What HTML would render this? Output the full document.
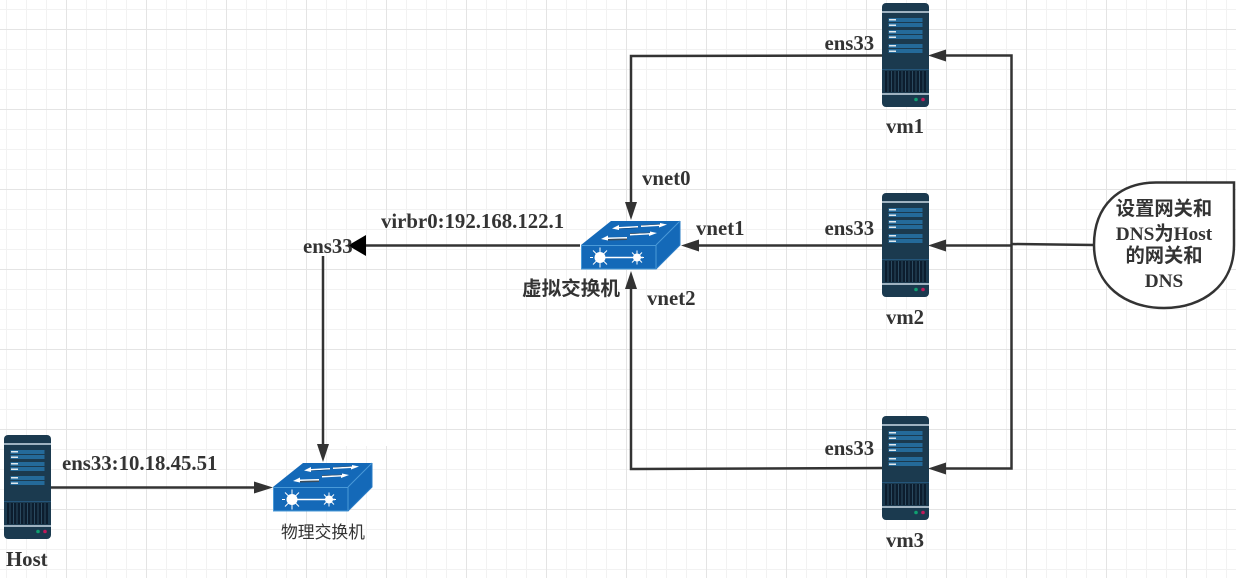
<!DOCTYPE html>
<html><head><meta charset="utf-8"><style>
html,body{margin:0;padding:0;background:#fff;width:1236px;height:578px;overflow:hidden}
svg{display:block}
text{font-family:"Liberation Serif","Noto Sans CJK SC",sans-serif;font-weight:bold;fill:#333;font-size:20.8px}
</style></head><body>
<svg width="1236" height="578" viewBox="0 0 1236 578" xmlns="http://www.w3.org/2000/svg">
<defs>
<pattern id="g" width="20" height="20" patternUnits="userSpaceOnUse" x="6" y="9">
<path d="M0.5 0V20M0 0.5H20" stroke="#f2f2f2" stroke-width="1" fill="none"/>
</pattern>
<pattern id="G" width="80" height="80" patternUnits="userSpaceOnUse" x="66" y="29">
<path d="M0.5 0V80M0 0.5H80" stroke="#e4e4e4" stroke-width="1" fill="none"/>
</pattern>
<g id="srv">
<rect width="47" height="104" rx="4" fill="#1b3a4f"/>
<rect y="8" width="47" height="2" fill="#9fb2c0"/>
<g fill="#246a9a">
<rect x="6.500" y="15" width="34" height="4"/><rect x="6.500" y="20" width="34" height="4"/>
<rect x="6.500" y="27" width="34" height="4"/><rect x="6.500" y="32" width="34" height="4"/>
<rect x="6.500" y="41" width="34" height="4"/><rect x="6.500" y="46" width="34" height="4"/>
</g>
<g fill="#dfe8ee">
<rect x="7" y="16" width="7" height="1.500"/><rect x="7" y="21.500" width="7" height="1.500"/>
<rect x="7" y="28" width="7" height="1.500"/><rect x="7" y="33.500" width="7" height="1.500"/>
<rect x="7" y="42" width="7" height="1.500"/><rect x="7" y="47.500" width="7" height="1.500"/>
</g>
<rect y="66" width="47" height="1" fill="#24557a"/>
<rect x="3" y="68" width="41" height="21" fill="#0c1d2e"/>
<path d="M6 68v21M9.500 68v21M13 68v21M16.500 68v21M20 68v21M23.500 68v21M27 68v21M30.500 68v21M34 68v21M37.500 68v21M41 68v21" stroke="#2a4a60" stroke-width="1"/>
<rect y="90" width="47" height="2" fill="#9fb2c0"/>
<circle cx="34" cy="96.500" r="1.800" fill="#0fa070"/>
<circle cx="41" cy="96.500" r="1.800" fill="#c01a5a"/>
</g>
<g id="sw">
<polygon points="0,24 30,0 99,0 75,24" fill="#1469b8"/>
<polygon points="75,24 99,0 99,24 75,48" fill="#1469b8"/>
<rect x="0.500" y="24.500" width="74.500" height="23.500" fill="#1469b8" stroke="#4a9ad8" stroke-width="1"/>
<path d="M75 24L99 0" stroke="#4a9ad8"/>
<path d="M75 48L99 24V0" stroke="#2a7cc6" fill="none"/>
<polygon points="31,7.500 38,4 38,6 57,5 57,6.500 38,7.500 38,9" fill="#fff"/>
<polygon points="38,8 57,7 57,6.500 38,7.500" fill="#123f6c"/>
<polygon points="60,4.500 79,3.500 79,2 86,3.500 78,6.500 78,5 60,6" fill="#fff"/>
<polygon points="60,4.500 79,3.500 79,3 60,4" fill="#45596b"/>
<polygon points="20,18 27,14.500 27,16.500 46,16 46,17.500 27,18 27,19.500" fill="#fff"/>
<polygon points="27,18 46,17.500 46,19 27,19.500" fill="#3a4c5c"/>
<polygon points="49,13 69,12 69,10.500 76,12 68,15 68,13.500 49,14.500" fill="#fff"/>
<polygon points="49,13 69,12 69,11.500 49,12" fill="#45596b"/>
<path d="M19 36.500H62" stroke="#fff" stroke-width="1.500"/>
<circle cx="19" cy="36.500" r="5.500" fill="#fff"/>
<circle cx="56" cy="36.500" r="4" fill="#fff"/>
<path d="M19 26.500v20M9 36.500h3M12 29.500l14 14M26 29.500l-14 14" stroke="#fff" stroke-width="1"/>
<path d="M56 29.500v14M49 36.500h14M51 31.500l10 10M61 31.500l-10 10" stroke="#fff" stroke-width="1"/>
</g>
</defs>
<rect width="1236" height="578" fill="#fff"/>
<rect width="1236" height="578" fill="url(#g)"/>
<rect width="1236" height="578" fill="url(#G)"/>
<rect x="345" y="430" width="42" height="16" fill="#fff"/>

<use href="#srv" x="882" y="3"/>
<use href="#srv" x="882" y="193"/>
<use href="#srv" x="882" y="416"/>
<use href="#srv" x="4" y="435"/>
<use href="#sw" x="581" y="221"/>
<use href="#sw" x="273" y="463"/>

<g stroke="#333" stroke-width="2.500" fill="none">
<path d="M882 55.500L631 56V205"/>
<path d="M882 245.500H695"/>
<path d="M882 468L631 469V286"/>
<path d="M580 245.500H365"/>
<path d="M323 256V446"/>
<path d="M51 487.500H257"/>
<path d="M945 55.500H1011.500V468.500H945"/>
<path d="M1011 245.500H945"/>
<path d="M1011 244L1094 245"/>
</g>
<g fill="#333">
<polygon points="631,220 625,202 637,202"/>
<polygon points="681,245.500 699,239.500 699,251.500"/>
<polygon points="631,271 625,289 637,289"/>
<polygon points="928,55.500 946,49.500 946,61.500"/>
<polygon points="928,245.500 946,239.500 946,251.500"/>
<polygon points="928,468.500 946,462.500 946,474.500"/>
<polygon points="317,444 329,444 323,462"/>
<polygon points="273,487.500 254,481.500 254,493.500"/>
</g>
<polygon points="348,245.500 366,235 366,256" fill="#000"/>

<path d="M1234 182.500H1156C1120 182.500 1094 205 1094 245C1094 285 1125 308 1164 308C1203 308 1234 285 1234 245Z" fill="#fff" stroke="#333" stroke-width="2.500"/>

<text x="824.500" y="50">ens33</text>
<text x="824.500" y="235">ens33</text>
<text x="824.500" y="455">ens33</text>
<text x="905" y="133" text-anchor="middle">vm1</text>
<text x="905" y="324" text-anchor="middle">vm2</text>
<text x="905" y="547" text-anchor="middle">vm3</text>
<text x="642" y="185">vnet0</text>
<text x="696" y="235">vnet1</text>
<text x="647" y="305">vnet2</text>
<text x="381" y="228">virbr0:192.168.122.1</text>
<text x="303" y="253">ens33</text>
<text x="62" y="470">ens33:10.18.45.51</text>
<text x="6" y="566">Host</text>
<text x="522" y="295" style="font-family:'Liberation Sans','Noto Sans CJK SC',sans-serif;font-size:19.600px">虚拟交换机</text>
<text x="281" y="538" style="font-family:'Liberation Sans','Noto Sans CJK SC',sans-serif;font-size:16.800px;font-weight:normal">物理交换机</text>
<text x="1164" y="215" text-anchor="middle" style="font-size:19.300px">设置网关和</text>
<text x="1164" y="240" text-anchor="middle" style="font-size:19.300px">DNS为Host</text>
<text x="1164" y="262" text-anchor="middle" style="font-size:19.300px">的网关和</text>
<text x="1164" y="287" text-anchor="middle" style="font-size:19.300px">DNS</text>
</svg>
</body></html>
